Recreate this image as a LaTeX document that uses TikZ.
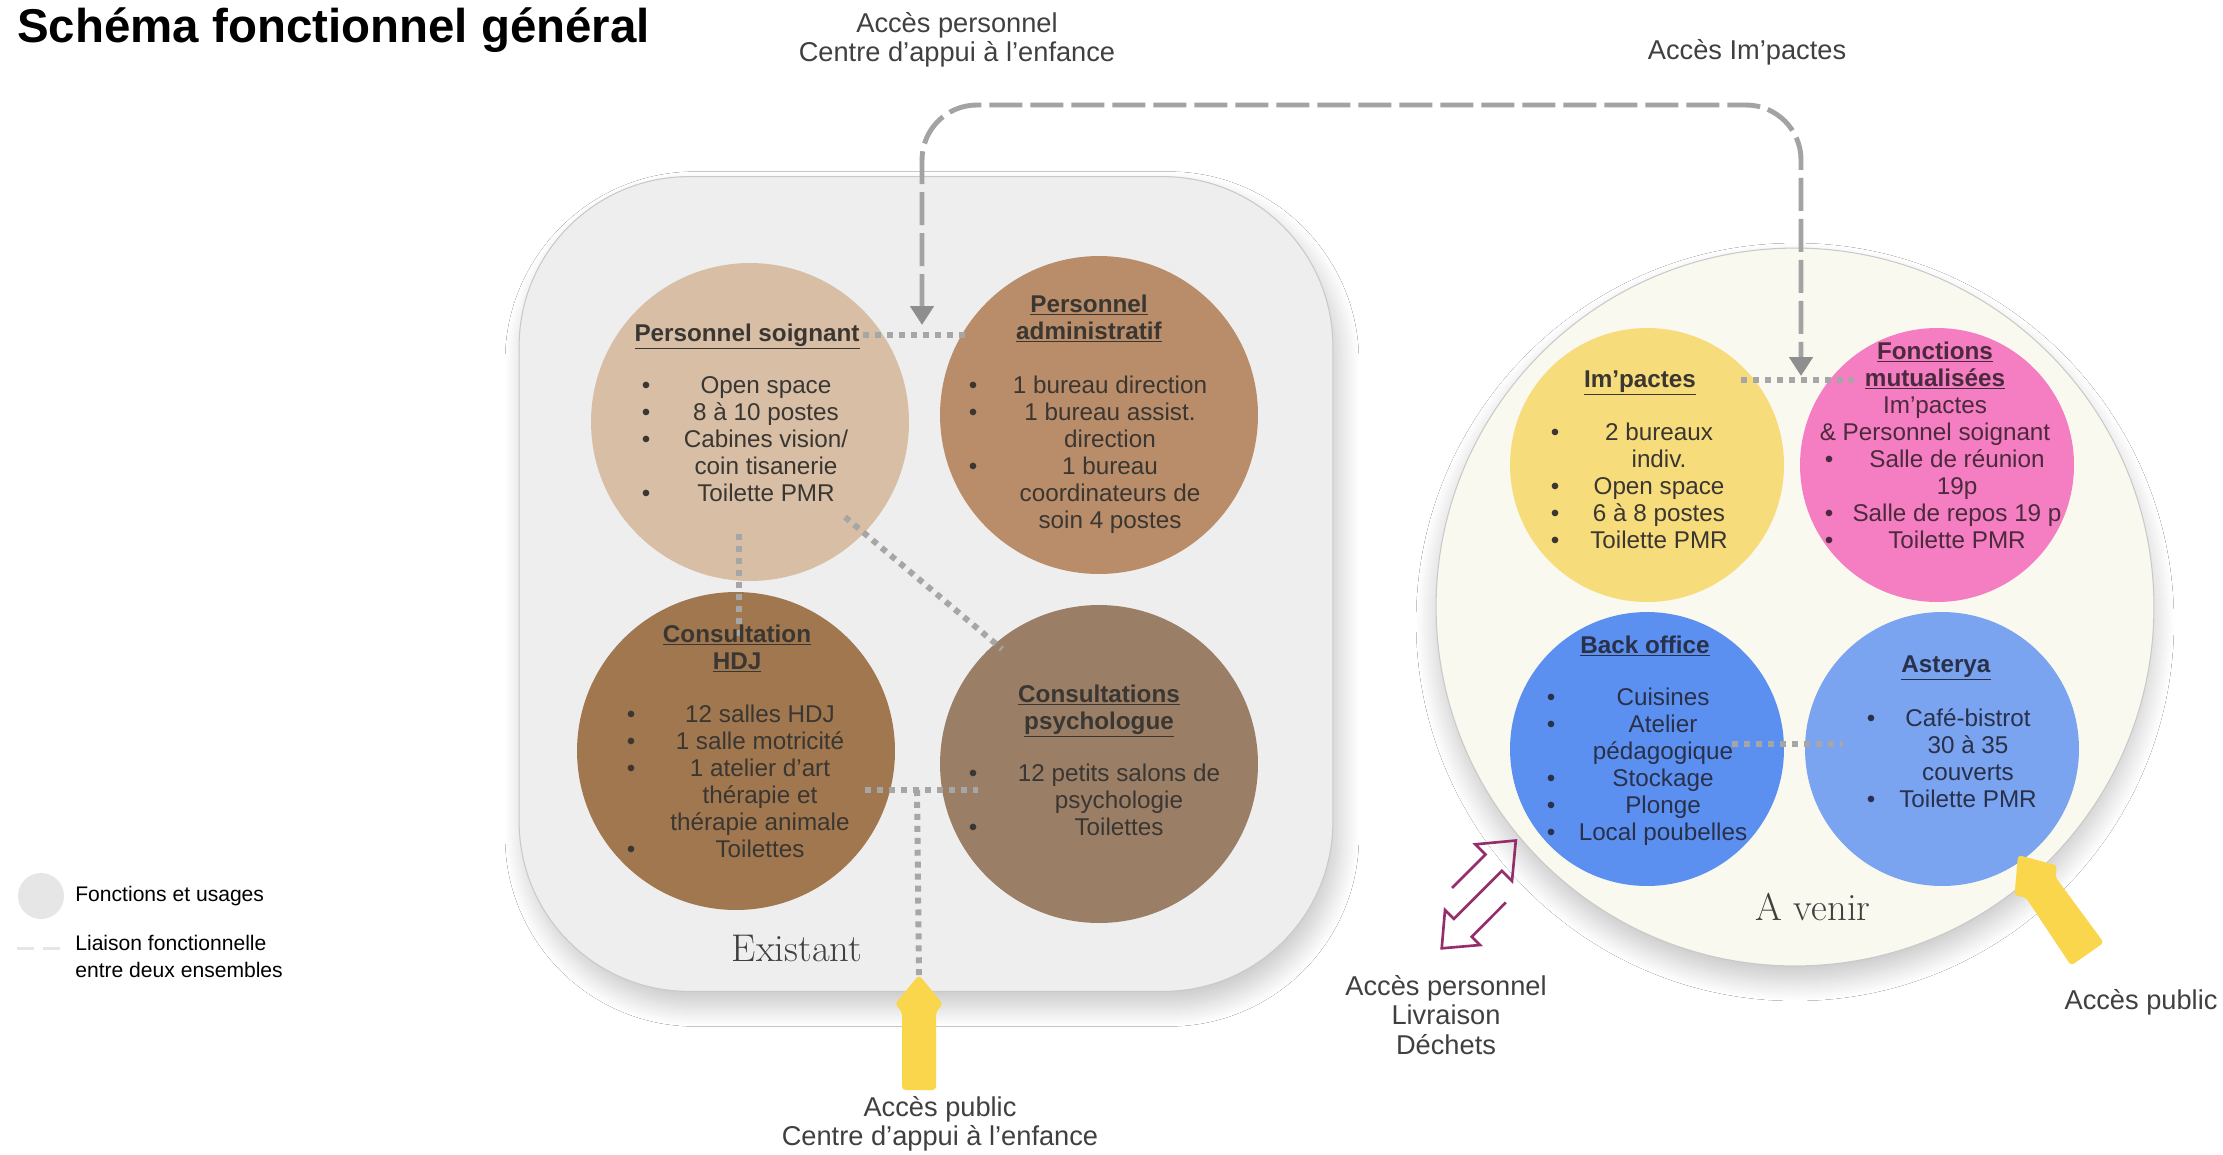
\documentclass[tikz,border=0pt]{standalone}
\usepackage{fontspec}
\usetikzlibrary{arrows.meta,shadows.blur}
\newfontfamily\labfont{Liberation Sans}

\definecolor{panelbg}{HTML}{EEEEEE}
\definecolor{panelln}{HTML}{C9C9C9}
\definecolor{cream}{HTML}{FAF9F0}
\definecolor{soinbg}{HTML}{D7BEA5}
\definecolor{admbg}{HTML}{B98D69}
\definecolor{hdjbg}{HTML}{A0774E}
\definecolor{psybg}{HTML}{9A7E66}
\definecolor{impbg}{HTML}{F7DC7B}
\definecolor{mutbg}{HTML}{F57DC1}
\definecolor{bckbg}{HTML}{5C90F0}
\definecolor{astbg}{HTML}{7AA4F0}
\definecolor{ink}{HTML}{3A3632}
\definecolor{blueink}{HTML}{28304A}
\definecolor{pinkink}{HTML}{4A2A3C}
\definecolor{linkgray}{HTML}{A6A6A6}
\definecolor{accgray}{HTML}{A3A3A3}
\definecolor{arrgray}{HTML}{8E8E8E}
\definecolor{labgray}{HTML}{404040}
\definecolor{pubyellow}{HTML}{F9D64B}
\definecolor{swappurple}{HTML}{952C6C}
\definecolor{leggray}{HTML}{E6E6E6}

\newcommand{\colstack}[1]{\begin{tabular}[t]{@{}c@{}}#1\end{tabular}}
\newcommand{\leftstack}[1]{\begin{tabular}[t]{@{}l@{}}#1\end{tabular}}
\newcommand{\hd}[1]{\underline{\textbf{#1}}}
\newcommand{\bul}{\textbullet}

\tikzset{
  panel/.style={draw=panelln, line width=0.6pt, inner sep=0pt},
  disc/.style={circle, inner sep=0pt, minimum size=#1},
  ctext/.style={inner sep=0pt, anchor=base, text=ink, font={\labfont\fontsize{13.8}{15.4}\selectfont}},
  outlab/.style={inner sep=0pt, anchor=base, text=labgray, font={\labfont\fontsize{15.5}{17}\selectfont}},
  legtext/.style={inner sep=0pt, anchor=base west, font={\labfont\fontsize{12}{15.4}\selectfont}},
  bigword/.style={inner sep=0pt, anchor=base, text=labgray, font={\fontsize{22}{26}\selectfont}},
  dotlink/.style={draw=linkgray, line width=3.4pt, dash pattern={on 3.4pt off 3.4pt}},
  accpath/.style={draw=accgray, line width=2.8pt, dash pattern={on 0.66cm off 0.16cm}, rounded corners=1.1cm,
    arrows={Triangle[width=0.46cm,length=0.38cm,color=arrgray]-Triangle[width=0.46cm,length=0.38cm,color=arrgray]}},
  pubarrow/.style={fill=pubyellow, rounded corners=2pt},
  swaparrow/.style={draw=swappurple, line width=1.5pt},
  softshadow/.style={blur shadow={shadow xshift=#1, shadow yshift=-0.3cm, shadow blur radius=0.4cm,
    shadow blur steps=20, shadow opacity=22}}
}

\begin{document}
\begin{tikzpicture}[x=0.02cm, y=-0.02cm]
\useasboundingbox[fill=white] (0,0) rectangle (2223,1154);

% ensembles
\node[panel, fill=panelbg, rounded corners=3.4cm, minimum width=16.28cm, minimum height=16.3cm,
  softshadow=0.12cm] (existant) at (926,584) {};
\node[panel, circle, fill=cream, minimum size=14.36cm, softshadow=0cm] (avenir) at (1795,607) {};

% fonctions
\node[disc=6.36cm, fill=soinbg] (soin) at (750,422) {};
\node[disc=6.36cm, fill=admbg] (adm) at (1099,415) {};
\node[disc=6.36cm, fill=hdjbg] (hdj) at (736,751) {};
\node[disc=6.36cm, fill=psybg] (psy) at (1099,764) {};
\node[disc=5.48cm, fill=impbg] (imp) at (1647,465) {};
\node[disc=5.48cm, fill=mutbg] (mut) at (1937,465) {};
\node[disc=5.48cm, fill=bckbg] (bck) at (1647,749) {};
\node[disc=5.48cm, fill=astbg] (ast) at (1942,749) {};

% liaisons
\coordinate (sa1) at (863,335);
\coordinate (sa2) at (968,335);
\coordinate (sh1) at (739,534);
\coordinate (sh2) at (739,641);
\coordinate (sp1) at (845,517);
\coordinate (sp2) at (1002,649);
\coordinate (hp1) at (865,790);
\coordinate (hp2) at (978,790);
\coordinate (hp3) at (917,790);
\coordinate (pubtip) at (919,975);
\coordinate (im1) at (1741,380);
\coordinate (im2) at (1854,380);
\coordinate (ba1) at (1732,744);
\coordinate (ba2) at (1843,744);
\draw[dotlink] (sa1) -- (sa2);
\draw[dotlink] (sh1) -- (sh2);
\draw[dotlink] (sp1) -- (sp2);
\draw[dotlink] (hp1) -- (hp2);
\draw[dotlink] (hp3) -- (pubtip);
\draw[dotlink] (im1) -- (im2);
\draw[dotlink] (ba1) -- (ba2);

% acces personnel / im'pactes
\coordinate (pin) at (922,325);
\coordinate (topmid) at (1361,105);
\coordinate (iin) at (1801,376);
\draw[accpath] (pin) |- (topmid) -| (iin);

% Personnel soignant
\node[ctext] (soin-h) at (747,341) {\hd{Personnel soignant}};
\node[ctext] (soin-b) at (646,393) {\colstack{\bul\\ \bul\\ \bul\\ \\ \bul}};
\node[ctext] (soin-t) at (766,393) {\colstack{Open space\\ 8 à 10 postes\\ Cabines vision/\\ coin tisanerie\\ Toilette PMR}};

% Personnel administratif
\node[ctext] (adm-h) at (1089,312) {\colstack{\hd{Personnel}\\ \hd{administratif}}};
\node[ctext] (adm-b) at (973,393) {\colstack{\bul\\ \bul\\ \\ \bul}};
\node[ctext] (adm-t) at (1110,393) {\colstack{1 bureau direction\\ 1 bureau assist.\\ direction\\ 1 bureau\\ coordinateurs de\\ soin 4 postes}};

% Consultation HDJ
\node[ctext] (hdj-h) at (737,642) {\colstack{\hd{Consultation}\\ \hd{HDJ}}};
\node[ctext] (hdj-b) at (631,722) {\colstack{\bul\\ \bul\\ \bul\\ \\ \\ \bul}};
\node[ctext] (hdj-t) at (760,722) {\colstack{12 salles HDJ\\ 1 salle motricité\\ 1 atelier d’art\\ thérapie et\\ thérapie animale\\ Toilettes}};

% Consultations psychologue
\node[ctext] (psy-h) at (1099,702) {\colstack{\hd{Consultations}\\ \hd{psychologue}}};
\node[ctext] (psy-b) at (973,781) {\colstack{\bul\\ \\ \bul}};
\node[ctext] (psy-t) at (1119,781) {\colstack{12 petits salons de\\ psychologie\\ Toilettes}};

% Im'pactes
\node[ctext] (imp-h) at (1640,387) {\hd{Im’pactes}};
\node[ctext] (imp-b) at (1555,440) {\colstack{\bul\\ \\ \bul\\ \bul\\ \bul}};
\node[ctext] (imp-t) at (1659,440) {\colstack{2 bureaux\\ indiv.\\ Open space\\ 6 à 8 postes\\ Toilette PMR}};

% Fonctions mutualisees
\node[ctext, text=pinkink] (mut-h) at (1935,359) {\colstack{\hd{Fonctions}\\ \hd{mutualisées}\\ Im’pactes\\ \& Personnel soignant}};
\node[ctext, text=pinkink] (mut-b) at (1829,467) {\colstack{\bul\\ \\ \bul\\ \bul}};
\node[ctext, text=pinkink] (mut-t) at (1957,467) {\colstack{Salle de réunion\\ 19p\\ Salle de repos 19 p\\ Toilette PMR}};

% Back office
\node[ctext, text=blueink] (bck-h) at (1645,653) {\hd{Back office}};
\node[ctext, text=blueink] (bck-b) at (1551,705) {\colstack{\bul\\ \bul\\ \\ \bul\\ \bul\\ \bul}};
\node[ctext, text=blueink] (bck-t) at (1663,705) {\colstack{Cuisines\\ Atelier\\ pédagogique\\ Stockage\\ Plonge\\ Local poubelles}};

% Asterya
\node[ctext, text=blueink] (ast-h) at (1946,672) {\hd{Asterya}};
\node[ctext, text=blueink] (ast-b) at (1871,726) {\colstack{\bul\\ \\ \\ \bul}};
\node[ctext, text=blueink] (ast-t) at (1968,726) {\colstack{Café-bistrot\\ 30 à 35\\ couverts\\ Toilette PMR}};

% noms des ensembles
\node[bigword] (exist-l) at (797,961) {Existant};
\node[bigword] (venir-l) at (1813,920) {A venir};

% acces
\fill[pubarrow] (pubtip) -- (943,1004) -- (936,1012) -- (936,1090) -- (902,1090) -- (902,1012) -- (895,1004) -- cycle;
\coordinate (asttip) at (2018,855);
\begin{scope}[shift={(asttip)}, rotate=35]
  \fill[pubarrow] (0,0) -- (26,31) -- (18,39) -- (20,121) -- (-20,121) -- (-18,39) -- (-26,31) -- cycle;
\end{scope}
\draw[swaparrow] (1452,888) -- (1485.5,854.5) -- (1475.3,844.3) -- (1515.8,840.5) -- (1512,881) -- (1501.8,870.8)
  -- (1453.8,918.8) -- (1445,910) -- (1441.7,948.3) -- (1480,945) -- (1471.7,936.7) -- (1505.8,902.5);

\node[outlab] (acc-pers) at (957,32) {\colstack{Accès personnel\\ Centre d’appui à l’enfance}};
\node[outlab] (acc-imp) at (1747,59) {Accès Im’pactes};
\node[outlab] (acc-pub) at (940,1116) {\colstack{Accès public\\ Centre d’appui à l’enfance}};
\node[outlab] (acc-livr) at (1446,995) {\colstack{Accès personnel\\ Livraison\\ Déchets}};
\node[outlab] (acc-pub2) at (2141,1009) {Accès public};

% titre et legende
\node[inner sep=0pt, anchor=base west, font={\labfont\fontsize{27}{32}\selectfont\bfseries}] (titre) at (17,42) {Schéma fonctionnel général};
\node[disc=0.92cm, fill=leggray] (leg-c) at (41,896) {};
\node[legtext] (leg-t1) at (75,901) {Fonctions et usages};
\coordinate (ld1) at (17,948);
\coordinate (ld2) at (60,948);
\draw[draw=leggray, line width=1.7pt, dash pattern={on 0.34cm off 0.18cm}] (ld1) -- (ld2);
\node[legtext] (leg-t2) at (75,950) {\leftstack{Liaison fonctionnelle\\ entre deux ensembles}};
\end{tikzpicture}
\end{document}
